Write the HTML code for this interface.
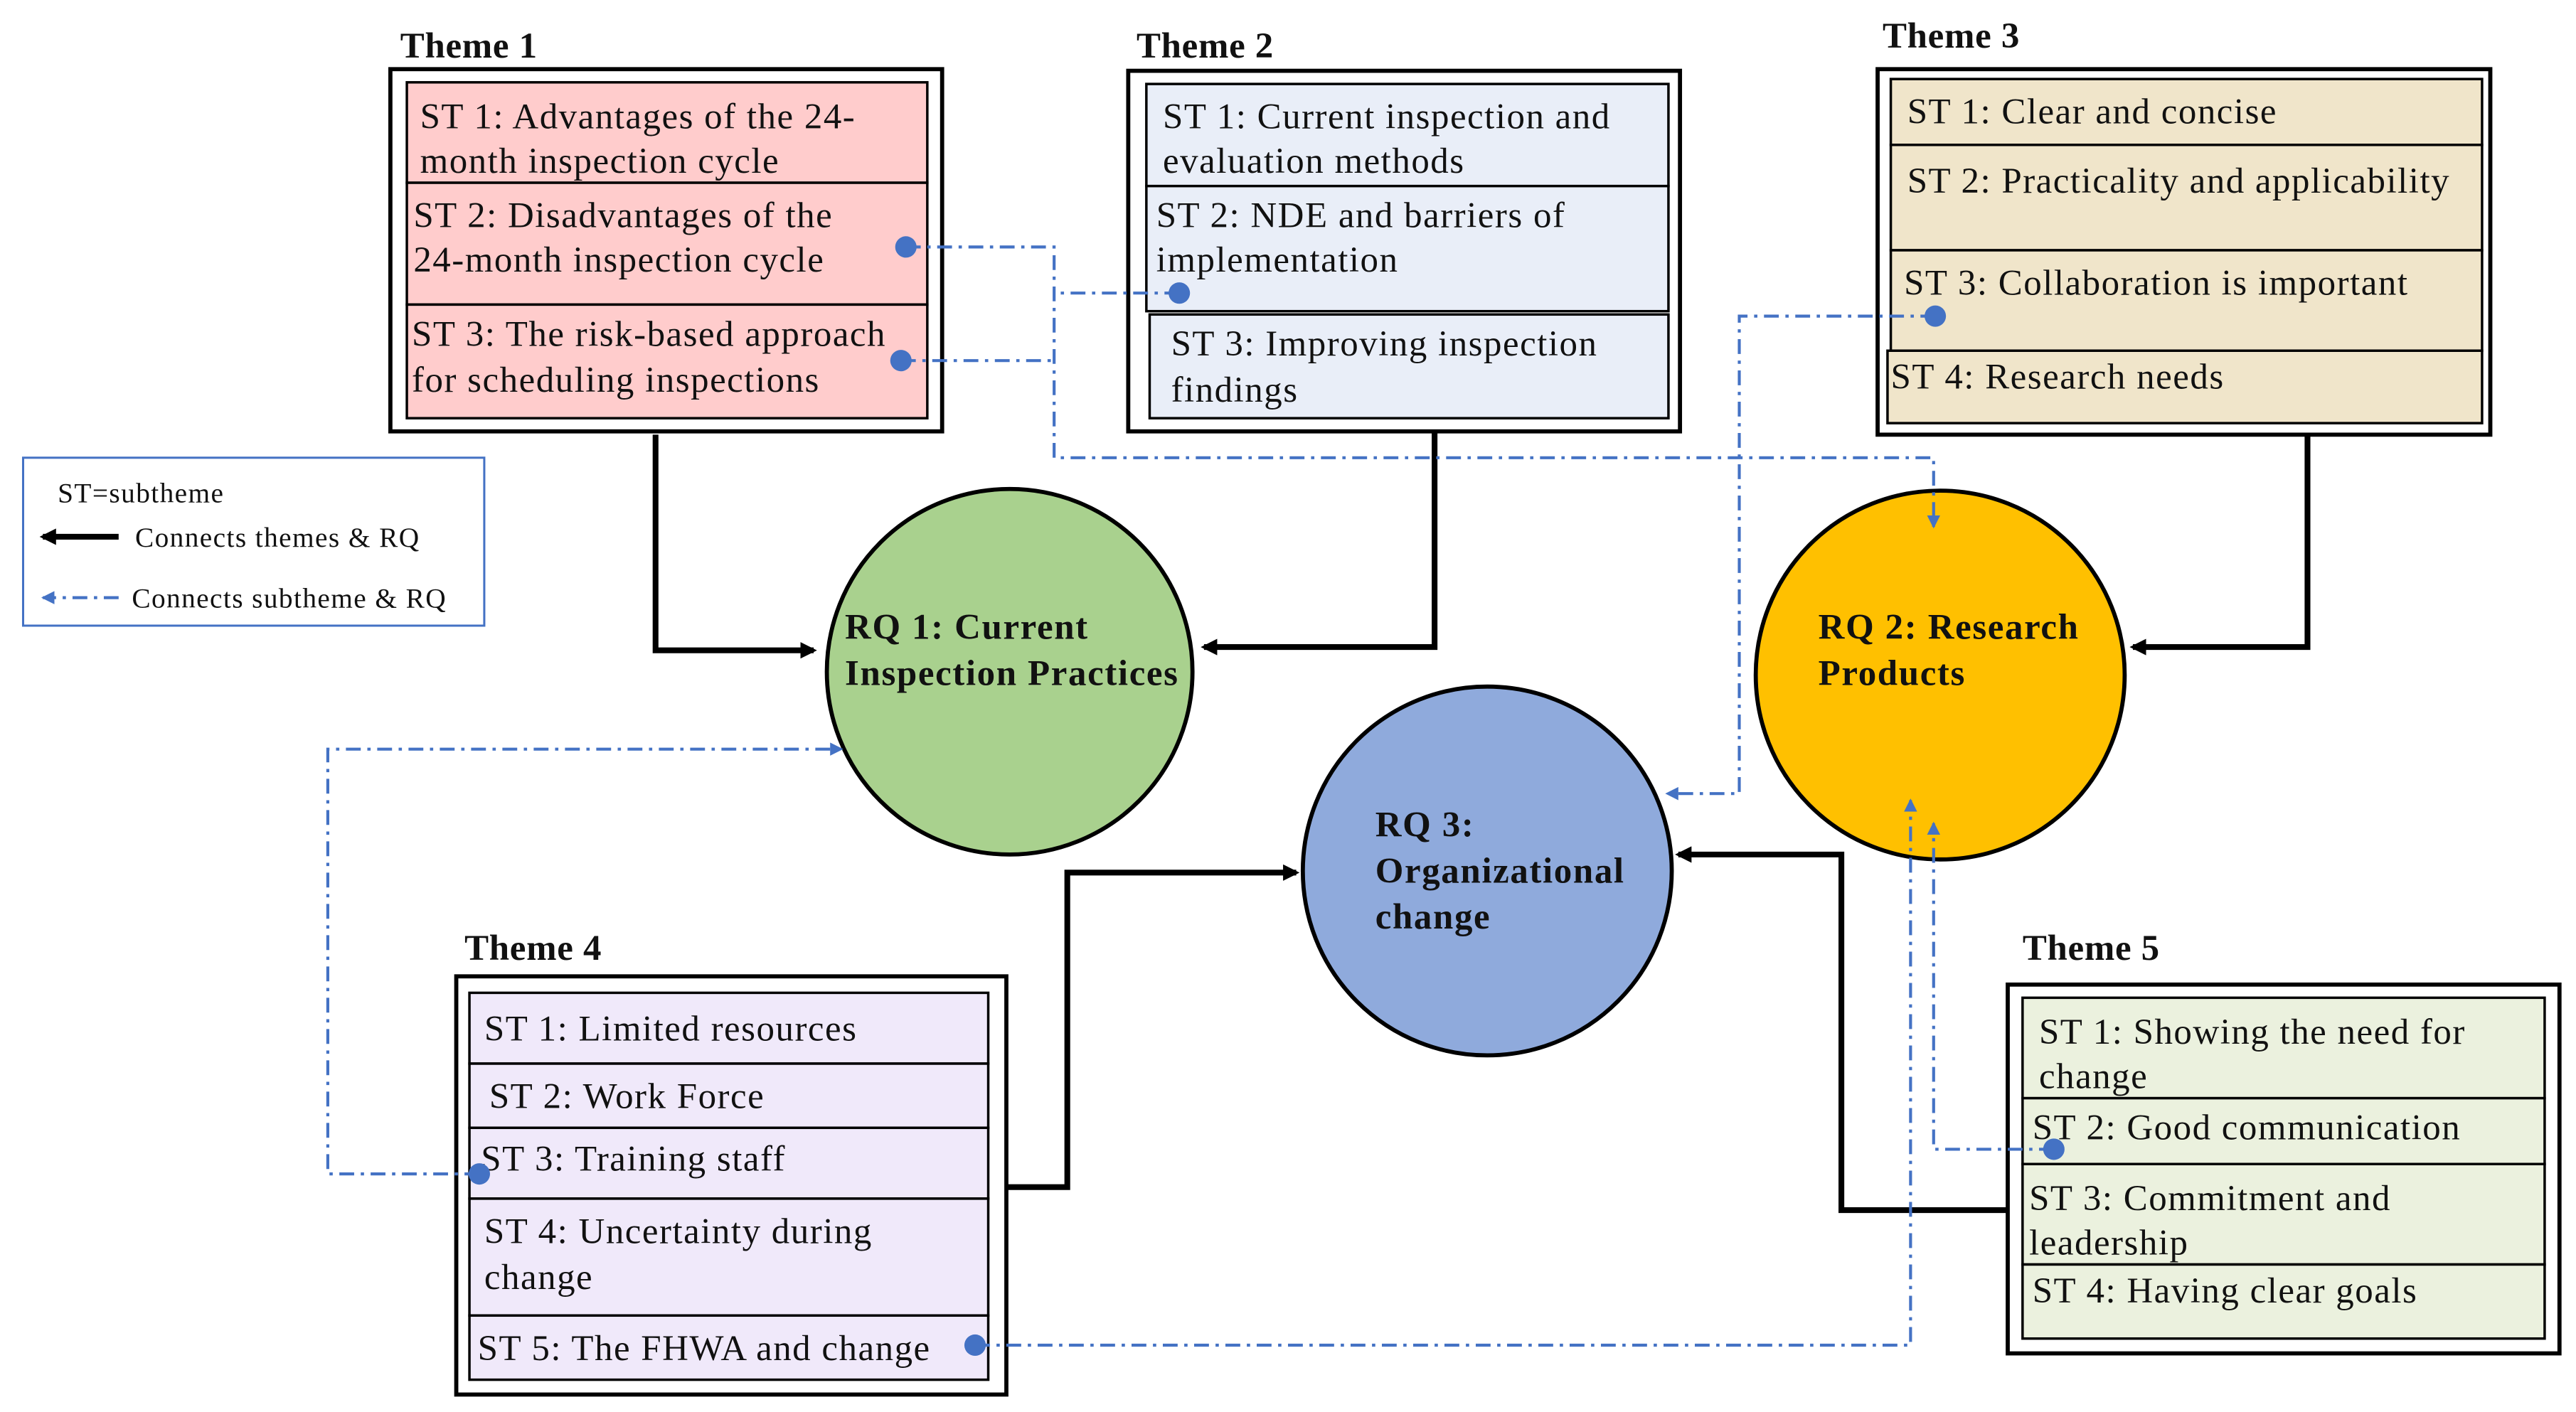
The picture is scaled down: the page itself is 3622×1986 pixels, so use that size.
<!DOCTYPE html>
<html><head><meta charset="utf-8"><style>
html,body{margin:0;padding:0;background:#fff;}
svg{display:block;}
text{font-family:"Liberation Serif",serif;font-size:22px;letter-spacing:0.65px;fill:#111;}
.b{font-weight:bold;letter-spacing:0.7px;}
.t{font-weight:bold;font-size:22px;letter-spacing:0.3px;}
.lg{font-size:17px;letter-spacing:0.6px;}
.bl{fill:none;stroke:#4472C4;stroke-width:1.8;stroke-dasharray:9 4 2 4;}
.k{fill:none;stroke:#000;stroke-width:3.5;}
.o{fill:#fff;stroke:#000;stroke-width:2.5;}
.i{stroke:#000;stroke-width:1.5;}
</style></head><body>
<svg width="3622" height="1986" viewBox="0 0 1564 857.6" xmlns="http://www.w3.org/2000/svg">
<defs>
<marker id="ak" markerWidth="10" markerHeight="10" refX="8" refY="5" orient="auto" markerUnits="userSpaceOnUse"><path d="M0,0 L10,5 L0,10 z" fill="#000"/></marker>
<marker id="ab" markerWidth="8" markerHeight="8" refX="7" refY="4" orient="auto" markerUnits="userSpaceOnUse"><path d="M0,0 L8,4 L0,8 z" fill="#4472C4"/></marker>
</defs>
<rect x="0" y="0" width="1564" height="858" fill="#fff"/>

<!-- Theme 1 -->
<text x="243" y="35" class="t">Theme 1</text>
<rect x="237" y="42" width="335" height="220" class="o"/>
<rect x="247" y="50" width="316" height="61" fill="#FFCCCC" class="i"/>
<rect x="247" y="111" width="316" height="74" fill="#FFCCCC" class="i"/>
<rect x="247" y="185" width="316" height="69" fill="#FFCCCC" class="i"/>
<text x="255" y="78">ST 1: Advantages of the 24-</text>
<text x="255" y="105">month inspection cycle</text>
<text x="251" y="138">ST 2: Disadvantages of the</text>
<text x="251" y="165">24-month inspection cycle</text>
<text x="250" y="210">ST 3: The risk-based approach</text>
<text x="250" y="238">for scheduling inspections</text>

<!-- Theme 2 -->
<text x="690" y="35" class="t">Theme 2</text>
<rect x="685" y="43" width="335" height="219" class="o"/>
<rect x="696" y="51" width="317" height="62" fill="#E9EEF8" class="i"/>
<rect x="696" y="113" width="317" height="76" fill="#E9EEF8" class="i"/>
<rect x="698" y="191" width="315" height="63" fill="#E9EEF8" class="i"/>
<text x="706" y="78">ST 1: Current inspection and</text>
<text x="706" y="105">evaluation methods</text>
<text x="702" y="138">ST 2: NDE and barriers of</text>
<text x="702" y="165">implementation</text>
<text x="711" y="216">ST 3: Improving inspection</text>
<text x="711" y="244">findings</text>

<!-- Theme 3 -->
<text x="1143" y="29" class="t">Theme 3</text>
<rect x="1140" y="42" width="372" height="222" class="o"/>
<rect x="1148" y="48" width="359" height="40" fill="#F0E5CA" class="i"/>
<rect x="1148" y="88" width="359" height="64" fill="#F0E5CA" class="i"/>
<rect x="1148" y="152" width="359" height="61" fill="#F0E5CA" class="i"/>
<rect x="1146" y="213" width="361" height="44" fill="#F0E5CA" class="i"/>
<text x="1158" y="75">ST 1: Clear and concise</text>
<text x="1158" y="117">ST 2: Practicality and applicability</text>
<text x="1156" y="179">ST 3: Collaboration is important</text>
<text x="1148" y="236">ST 4: Research needs</text>

<!-- Legend -->
<rect x="14" y="278" width="280" height="102" fill="#fff" stroke="#4472C4" stroke-width="1.3"/>
<text x="35" y="305" class="lg">ST=subtheme</text>
<line x1="72" y1="326" x2="26" y2="326" class="k" marker-end="url(#ak)"/>
<text x="82" y="332" class="lg">Connects themes &amp; RQ</text>
<line x1="72" y1="363" x2="26" y2="363" class="bl" marker-end="url(#ab)"/>
<text x="80" y="369" class="lg">Connects subtheme &amp; RQ</text>

<!-- Black connectors -->
<polyline points="398,264 398,395 494,395" class="k" marker-end="url(#ak)"/>
<polyline points="871,262 871,393 731,393" class="k" marker-end="url(#ak)"/>
<polyline points="1401,264 1401,393 1295,393" class="k" marker-end="url(#ak)"/>
<polyline points="611,721 648,721 648,530 787,530" class="k" marker-end="url(#ak)"/>
<polyline points="1219,735 1118,735 1118,519 1019,519" class="k" marker-end="url(#ak)"/>

<!-- Circles -->
<circle cx="613" cy="408" r="111" fill="#A9D18E" stroke="#000" stroke-width="2.5"/>
<circle cx="1178" cy="410" r="112" fill="#FFC000" stroke="#000" stroke-width="2.5"/>
<circle cx="903" cy="529" r="112" fill="#8FAADC" stroke="#000" stroke-width="2.5"/>
<text x="513" y="388" class="b">RQ 1: Current</text>
<text x="513" y="416" class="b">Inspection Practices</text>
<text x="1104" y="388" class="b">RQ 2: Research</text>
<text x="1104" y="416" class="b">Products</text>
<text x="835" y="508" class="b">RQ 3:</text>
<text x="835" y="536" class="b">Organizational</text>
<text x="835" y="564" class="b">change</text>

<!-- Theme 4 -->
<text x="282" y="583" class="t">Theme 4</text>
<rect x="277" y="593" width="334" height="254" class="o"/>
<rect x="285" y="603" width="315" height="43" fill="#F0E9FA" class="i"/>
<rect x="285" y="646" width="315" height="39" fill="#F0E9FA" class="i"/>
<rect x="285" y="685" width="315" height="43" fill="#F0E9FA" class="i"/>
<rect x="285" y="728" width="315" height="71" fill="#F0E9FA" class="i"/>
<rect x="285" y="799" width="315" height="39" fill="#F0E9FA" class="i"/>
<text x="294" y="632">ST 1: Limited resources</text>
<text x="297" y="673">ST 2: Work Force</text>
<text x="292" y="711">ST 3: Training staff</text>
<text x="294" y="755">ST 4: Uncertainty during</text>
<text x="294" y="783">change</text>
<text x="290" y="826">ST 5: The FHWA and change</text>

<!-- Theme 5 -->
<text x="1228" y="583" class="t">Theme 5</text>
<rect x="1219" y="598" width="335" height="224" class="o"/>
<rect x="1228" y="606" width="317" height="61" fill="#EBF1DE" class="i"/>
<rect x="1228" y="667" width="317" height="40" fill="#EBF1DE" class="i"/>
<rect x="1228" y="707" width="317" height="61" fill="#EBF1DE" class="i"/>
<rect x="1228" y="768" width="317" height="45" fill="#EBF1DE" class="i"/>
<text x="1238" y="634">ST 1: Showing the need for</text>
<text x="1238" y="661">change</text>
<text x="1234" y="692">ST 2: Good communication</text>
<text x="1232" y="735">ST 3: Commitment and</text>
<text x="1232" y="762">leadership</text>
<text x="1234" y="791">ST 4: Having clear goals</text>

<!-- Blue dash-dot connectors -->
<polyline points="550,150 640,150 640,278 1174,278 1174,320" class="bl" marker-end="url(#ab)"/>
<polyline points="547,219 640,219" class="bl"/>
<polyline points="716,178 640,178" class="bl"/>
<polyline points="1175,192 1056,192 1056,482 1012,482" class="bl" marker-end="url(#ab)"/>
<polyline points="291,713 199,713 199,455 511,455" class="bl" marker-end="url(#ab)"/>
<polyline points="592,817 1160,817 1160,486" class="bl" marker-end="url(#ab)"/>
<polyline points="1247,698 1174,698 1174,500" class="bl" marker-end="url(#ab)"/>

<!-- Dots -->
<g fill="#4472C4">
<circle cx="550" cy="150" r="6.5"/>
<circle cx="547" cy="219" r="6.5"/>
<circle cx="716" cy="178" r="6.5"/>
<circle cx="1175" cy="192" r="6.5"/>
<circle cx="291" cy="713" r="6.5"/>
<circle cx="592" cy="817" r="6.5"/>
<circle cx="1247" cy="698" r="6.5"/>
</g>
</svg>
</body></html>
